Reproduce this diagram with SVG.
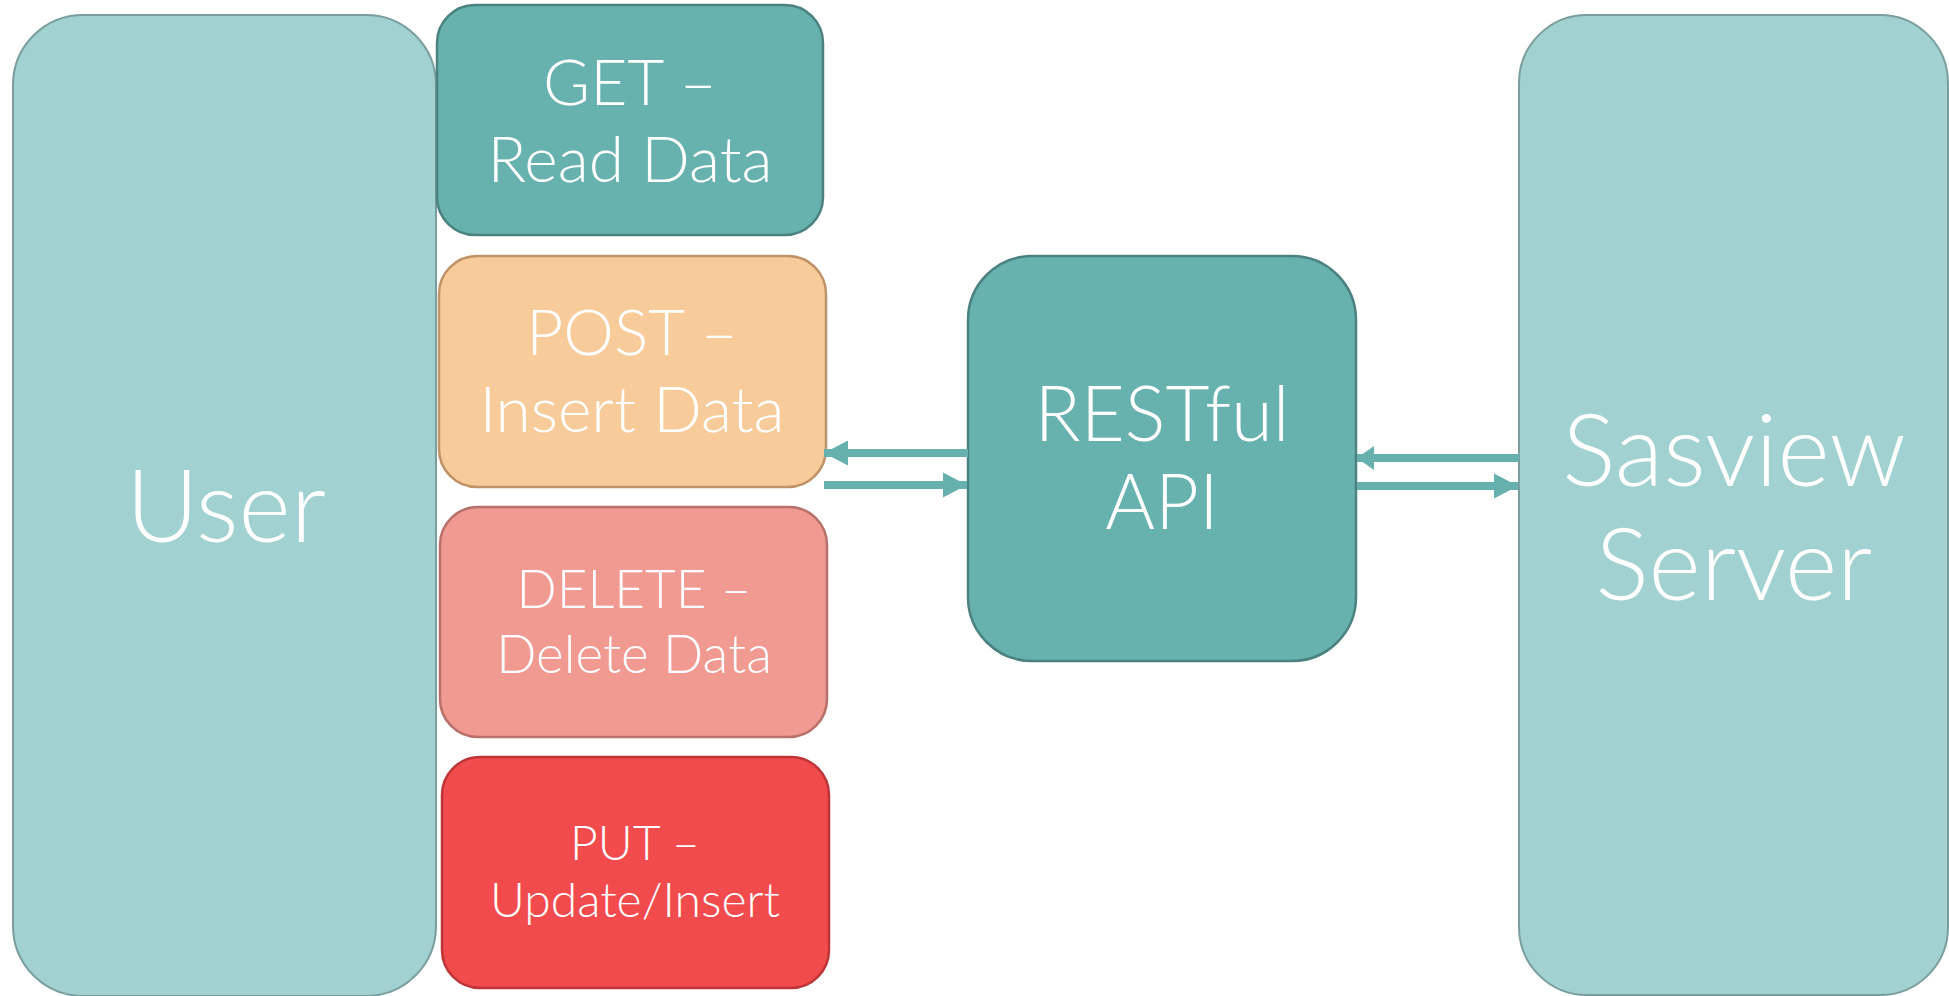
<svg xmlns="http://www.w3.org/2000/svg" width="1949" height="996" viewBox="0 0 1949 996">
<defs>
<style>
.big{fill:#a1d1d0;stroke:#7a9e9e;stroke-width:2}
.teal{fill:#67b2af;stroke:#4b8280;stroke-width:2.5}
.post{fill:#f8cb9a;stroke:#bf9267;stroke-width:2.5}
.del{fill:#f19a92;stroke:#b7716a;stroke-width:2.5}
.put{fill:#f14b4e;stroke:#be3538;stroke-width:2.5}
text{font-family:Lato,"Open Sans","Liberation Sans",sans-serif;font-weight:300;fill:#ffffff;text-anchor:middle}
.conn{stroke:#66b1ae;stroke-width:8;fill:none}
</style>
<marker id="head" markerUnits="userSpaceOnUse" viewBox="0 0 24 25" markerWidth="24" markerHeight="25" refX="24" refY="12.5" orient="auto" overflow="visible">
<path d="M0,0 L24,12.5 L0,25 Z" fill="#66b1ae"/>
</marker>
<marker id="headShort" markerUnits="userSpaceOnUse" viewBox="0 0 17 24" markerWidth="17" markerHeight="24" refX="17" refY="12" orient="auto" overflow="visible">
<path d="M0,0 L17,12 L0,24 Z" fill="#66b1ae"/>
</marker>
</defs>
<rect width="1949" height="996" fill="#ffffff"/>
<g id="user">
<rect class="big" x="13" y="15" width="423" height="981" rx="70" ry="70"/>
<text x="226" y="542" font-size="100">User</text>
</g>
<g id="sasview">
<rect class="big" x="1519" y="15" width="429" height="980" rx="68" ry="68"/>
<text x="1734" y="486" font-size="100">Sasview</text>
<text x="1734" y="600" font-size="100">Server</text>
</g>
<g id="get">
<rect class="teal" x="437" y="5" width="386" height="230" rx="38" ry="38"/>
<text x="630" y="105" font-size="64">GET –</text>
<text x="630" y="182" font-size="64">Read Data</text>
</g>
<g id="post">
<rect class="post" x="439" y="256" width="387" height="231" rx="38" ry="38"/>
<text x="632" y="355" font-size="64">POST –</text>
<text x="632" y="432" font-size="64">Insert Data</text>
</g>
<g id="delete">
<rect class="del" x="440" y="507" width="387" height="230" rx="38" ry="38"/>
<text x="634" y="608" font-size="53">DELETE –</text>
<text x="634" y="673" font-size="53">Delete Data</text>
</g>
<g id="put">
<rect class="put" x="442" y="757" width="387" height="231" rx="38" ry="38"/>
<text x="635" y="860" font-size="48">PUT –</text>
<text x="635" y="917" font-size="48">Update/Insert</text>
</g>
<g id="restful">
<rect class="teal" x="968" y="256" width="388" height="405" rx="64" ry="64"/>
<text x="1162" y="441" font-size="76">RESTful</text>
<text x="1162" y="529" font-size="76">API</text>
</g>
<g id="connectors">
<line class="conn" x1="968" y1="453" x2="824" y2="453" marker-end="url(#head)"/>
<line class="conn" x1="824" y1="485" x2="967" y2="485" marker-end="url(#head)"/>
<line class="conn" x1="1519" y1="458" x2="1357" y2="458" marker-end="url(#headShort)"/>
<line class="conn" x1="1357" y1="486" x2="1518" y2="486" marker-end="url(#head)"/>
</g>
</svg>
